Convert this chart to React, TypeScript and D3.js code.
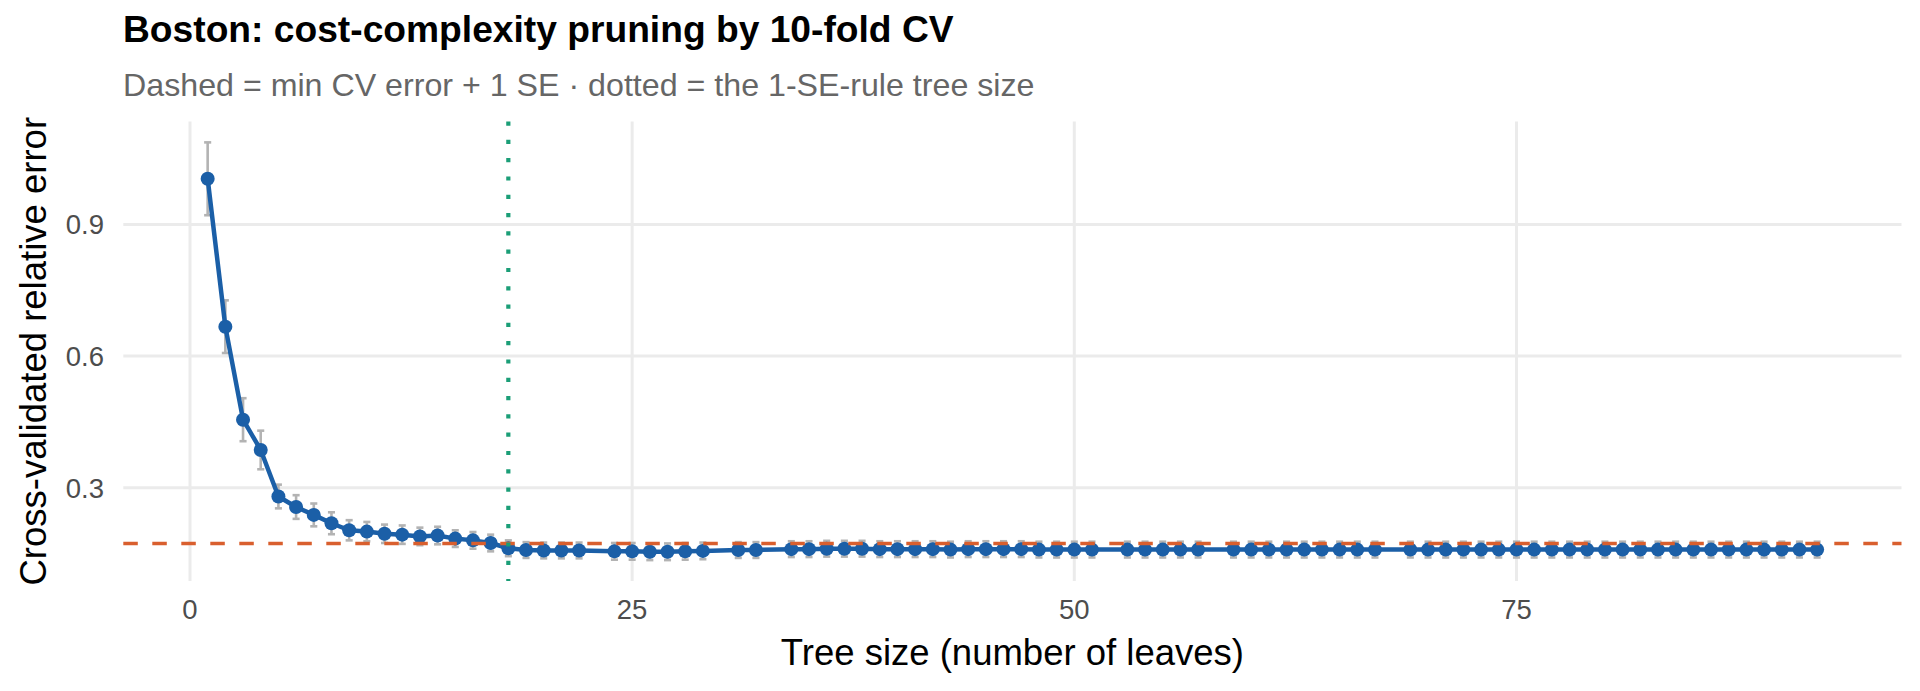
import { useEffect, useRef } from 'react';
import * as d3 from 'd3';

// tree sizes (number of leaves) kept in the rpart cp table
const treeSizes = [
  1, 2, 3, 4, 5, 6, 7, 8, 9, 10, 11, 12, 13, 14, 15, 16, 17, 18, 19, 20, 21, 22,
  24, 25, 26, 27, 28, 29, 31, 32,
  34, 35, 36, 37, 38, 39, 40, 41, 42, 43, 44, 45, 46, 47, 48, 49, 50, 51,
  53, 54, 55, 56, 57,
  59, 60, 61, 62, 63, 64, 65, 66, 67,
  69, 70, 71, 72, 73, 74, 75, 76, 77, 78, 79, 80, 81, 82, 83, 84, 85, 86, 87, 88, 89, 90, 91, 92,
];

// cross-validated relative error (xerror)
const cvError = [
  1.004, 0.667, 0.455, 0.386, 0.28, 0.256, 0.238, 0.219, 0.203, 0.2, 0.195, 0.193, 0.189, 0.191, 0.184, 0.18, 0.174, 0.162, 0.158, 0.157, 0.157, 0.157,
  0.155, 0.155, 0.154, 0.154, 0.155, 0.156, 0.158, 0.158,
  0.16, 0.16, 0.161, 0.161, 0.161, 0.16, 0.16, 0.16, 0.16, 0.159, 0.16, 0.16, 0.16, 0.16, 0.159, 0.159, 0.159, 0.159,
  0.159, 0.159, 0.159, 0.159, 0.159,
  0.159, 0.159, 0.159, 0.159, 0.159, 0.159, 0.159, 0.159, 0.159,
  0.159, 0.159, 0.159, 0.159, 0.159, 0.159, 0.159, 0.159, 0.159, 0.159, 0.159, 0.159, 0.159, 0.159, 0.159, 0.159, 0.159, 0.159, 0.159, 0.159, 0.159, 0.159, 0.159, 0.159,
];

// standard error of xerror (xstd)
const cvSE = [
  0.083, 0.06, 0.049, 0.044, 0.027, 0.027, 0.026, 0.025, 0.023, 0.022, 0.021, 0.021, 0.02, 0.02, 0.019, 0.019, 0.019, 0.018, 0.018, 0.018, 0.018, 0.018,
  0.019, 0.019, 0.019, 0.019, 0.019, 0.019, 0.018, 0.018,
  0.018, 0.018, 0.018, 0.018, 0.018, 0.018, 0.018, 0.018, 0.018, 0.018, 0.018, 0.018, 0.018, 0.018, 0.018, 0.018, 0.018, 0.018,
  0.018, 0.018, 0.018, 0.018, 0.018,
  0.018, 0.018, 0.018, 0.018, 0.018, 0.018, 0.018, 0.018, 0.018,
  0.018, 0.018, 0.018, 0.018, 0.018, 0.018, 0.018, 0.018, 0.018, 0.018, 0.018, 0.018, 0.018, 0.018, 0.018, 0.018, 0.018, 0.018, 0.018, 0.018, 0.018, 0.018, 0.018, 0.018,
];

const xTicks = [0, 25, 50, 75];
const yTicks = [0.3, 0.6, 0.9];

const titleText = 'Boston: cost-complexity pruning by 10-fold CV';
const subtitleText = 'Dashed = min CV error + 1 SE · dotted = the 1-SE-rule tree size';
const xTitle = 'Tree size (number of leaves)';
const yTitle = 'Cross-validated relative error';

interface CvPoint {
  size: number;
  err: number;
  se: number;
}

const WIDTH = 1920;
const HEIGHT = 691;
const FONT = "'Liberation Sans', Arial, Helvetica, sans-serif";

function PruningChart() {
  const svgRef = useRef<SVGSVGElement>(null);

  useEffect(() => {
    if (!svgRef.current) return;

    const svg = d3.select(svgRef.current);
    svg.selectAll('*').remove();

    const data: CvPoint[] = treeSizes.map((s, i) => ({ size: s, err: cvError[i], se: cvSE[i] }));

    // 1-SE rule
    const best = data.reduce((a, b) => (b.err < a.err ? b : a));
    const threshold = best.err + best.se;
    const chosen = data.find((d) => d.err <= threshold)!;

    const panel = { left: 123.3, right: 1901.5, top: 121.5, bottom: 581 };
    const capHalf = 0.2;

    // ggplot-like 5% expansion
    const xLo = d3.min(data, (d) => d.size)! - capHalf;
    const xHi = d3.max(data, (d) => d.size)! + capHalf;
    const xPad = (xHi - xLo) * 0.05;
    const x = d3.scaleLinear().domain([xLo - xPad, xHi + xPad]).range([panel.left, panel.right]);

    const yLo = d3.min(data, (d) => d.err - d.se)!;
    const yHi = d3.max(data, (d) => d.err + d.se)!;
    const yPad = (yHi - yLo) * 0.05;
    const y = d3.scaleLinear().domain([yLo - yPad, yHi + yPad]).range([panel.bottom, panel.top]);

    svg.append('rect').attr('width', WIDTH).attr('height', HEIGHT).attr('fill', '#ffffff');

    // Grid lines
    const grid = svg.append('g').attr('stroke', '#ebebeb').attr('stroke-width', 3);
    grid
      .selectAll('.hgrid')
      .data(yTicks)
      .enter()
      .append('line')
      .attr('x1', panel.left)
      .attr('x2', panel.right)
      .attr('y1', (d) => y(d))
      .attr('y2', (d) => y(d));
    grid
      .selectAll('.vgrid')
      .data(xTicks)
      .enter()
      .append('line')
      .attr('y1', panel.top)
      .attr('y2', panel.bottom)
      .attr('x1', (d) => x(d))
      .attr('x2', (d) => x(d));

    // Error bars
    const capPx = x(capHalf) - x(0);
    const bars = svg.append('g').attr('stroke', '#b3b3b3').attr('stroke-width', 2.6).attr('fill', 'none');
    const bar = bars.selectAll('.eb').data(data).enter().append('g');
    bar
      .append('line')
      .attr('x1', (d) => x(d.size))
      .attr('x2', (d) => x(d.size))
      .attr('y1', (d) => y(d.err - d.se))
      .attr('y2', (d) => y(d.err + d.se));
    bar
      .append('line')
      .attr('x1', (d) => x(d.size) - capPx)
      .attr('x2', (d) => x(d.size) + capPx)
      .attr('y1', (d) => y(d.err + d.se))
      .attr('y2', (d) => y(d.err + d.se));
    bar
      .append('line')
      .attr('x1', (d) => x(d.size) - capPx)
      .attr('x2', (d) => x(d.size) + capPx)
      .attr('y1', (d) => y(d.err - d.se))
      .attr('y2', (d) => y(d.err - d.se));

    // CV error line + points
    const line = d3
      .line<CvPoint>()
      .x((d) => x(d.size))
      .y((d) => y(d.err));

    svg
      .append('path')
      .datum(data)
      .attr('fill', 'none')
      .attr('stroke', '#1b5fa7')
      .attr('stroke-width', 4.5)
      .attr('stroke-linejoin', 'round')
      .attr('d', line);

    svg
      .selectAll('.dot')
      .data(data)
      .enter()
      .append('circle')
      .attr('cx', (d) => x(d.size))
      .attr('cy', (d) => y(d.err))
      .attr('r', 7)
      .attr('fill', '#1b5fa7');

    // min + 1 SE
    svg
      .append('line')
      .attr('x1', panel.left)
      .attr('x2', panel.right)
      .attr('y1', y(threshold))
      .attr('y2', y(threshold))
      .attr('stroke', '#d95f2e')
      .attr('stroke-width', 3.4)
      .attr('stroke-dasharray', '14.5,14.5');

    // chosen tree size
    svg
      .append('line')
      .attr('x1', x(chosen.size))
      .attr('x2', x(chosen.size))
      .attr('y1', panel.top)
      .attr('y2', panel.bottom)
      .attr('stroke', '#1b9e77')
      .attr('stroke-width', 4.2)
      .attr('stroke-dasharray', '4.2,14.1');

    // Tick labels
    svg
      .selectAll('.ylab')
      .data(yTicks)
      .enter()
      .append('text')
      .attr('x', 104)
      .attr('y', (d) => y(d))
      .attr('dy', '0.36em')
      .attr('text-anchor', 'end')
      .attr('fill', '#4d4d4d')
      .attr('font-family', FONT)
      .attr('font-size', 27.5)
      .text((d) => d3.format('.1f')(d));

    svg
      .selectAll('.xlab')
      .data(xTicks)
      .enter()
      .append('text')
      .attr('x', (d) => x(d))
      .attr('y', 619)
      .attr('text-anchor', 'middle')
      .attr('fill', '#4d4d4d')
      .attr('font-family', FONT)
      .attr('font-size', 27.5)
      .text((d) => String(d));

    // Axis titles
    svg
      .append('text')
      .attr('x', (panel.left + panel.right) / 2)
      .attr('y', 665)
      .attr('text-anchor', 'middle')
      .attr('fill', '#000000')
      .attr('font-family', FONT)
      .attr('font-size', 36.5)
      .text(xTitle);

    svg
      .append('text')
      .attr('transform', `translate(46,${(panel.top + panel.bottom) / 2}) rotate(-90)`)
      .attr('text-anchor', 'middle')
      .attr('fill', '#000000')
      .attr('font-family', FONT)
      .attr('font-size', 36.5)
      .text(yTitle);

    // Title and subtitle
    svg
      .append('text')
      .attr('x', 123)
      .attr('y', 42)
      .attr('fill', '#000000')
      .attr('font-family', FONT)
      .attr('font-size', 37.2)
      .attr('font-weight', 'bold')
      .text(titleText);

    svg
      .append('text')
      .attr('x', 123)
      .attr('y', 96)
      .attr('fill', '#666666')
      .attr('font-family', FONT)
      .attr('font-size', 32.2)
      .text(subtitleText);
  }, []);

  return <svg ref={svgRef} width={WIDTH} height={HEIGHT} style={{ position: 'absolute', left: 0, top: 0, display: 'block' }} />;
}

export default function App() {
  return <PruningChart />;
}
